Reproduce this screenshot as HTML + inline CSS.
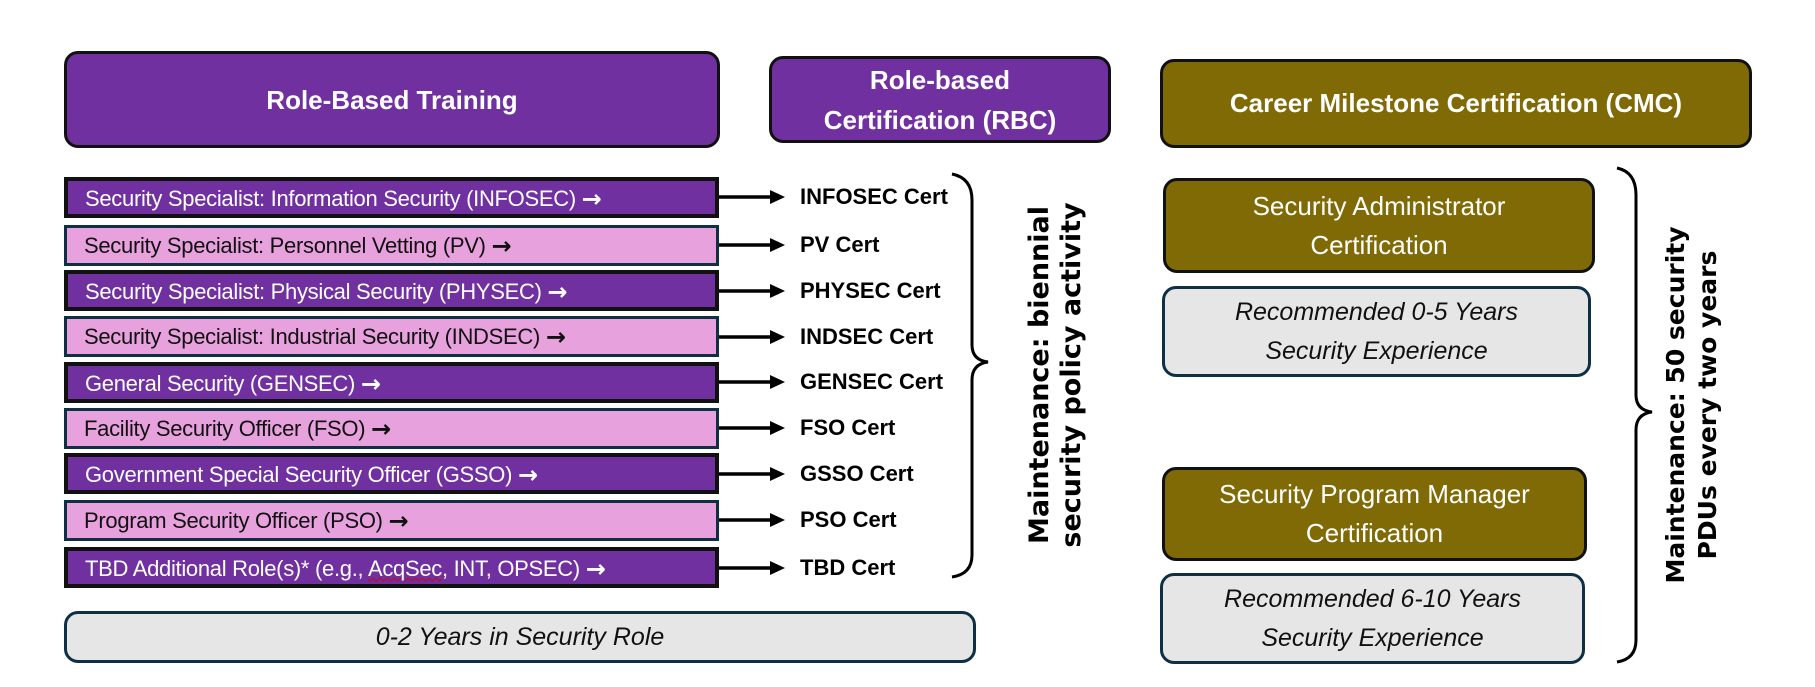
<!DOCTYPE html>
<html><head><meta charset="utf-8"><style>
body{margin:0;width:1815px;height:687px;background:#fff;position:relative;overflow:hidden;font-family:"Liberation Sans",sans-serif}
.b{position:absolute;box-sizing:border-box;display:flex;align-items:center;justify-content:center;text-align:center}
.hp{background:#7030A0;border:3px solid #111;border-radius:14px;color:#fff;font-weight:bold;font-size:26px;line-height:40px}
.ho{background:#7F6A05;border:3px solid #111;border-radius:14px;color:#fff}
.g{background:#E6E6E6;border:3px solid #0E2F44;border-radius:14px;color:#111;font-style:italic;font-size:25px;line-height:39px}
.r{position:absolute;left:64px;width:655px;height:41px;box-sizing:border-box;font-size:22px;line-height:35px;padding-left:17px;white-space:nowrap;letter-spacing:-0.3px}
.r i{font-style:normal;font-family:"DejaVu Sans",sans-serif;font-size:24px;font-weight:bold;vertical-align:-1px}
.d{background:#7030A0;border:4px solid #111;color:#fff}
.p{background:#E7A2DE;border:3px solid #0E2F44;color:#111}
.c{position:absolute;left:800px;font-weight:bold;font-size:22px;line-height:26px;white-space:nowrap}
.v{position:absolute;font-family:"DejaVu Sans",sans-serif;font-weight:bold;line-height:31px;text-align:center;white-space:nowrap;transform:rotate(-90deg);transform-origin:center}
</style></head><body>
<div class="b hp" style="left:64px;top:51px;width:656px;height:97px">Role-Based Training</div>
<div class="b hp" style="left:769px;top:56px;width:342px;height:87px">Role-based<br>Certification (RBC)</div>
<div class="b ho" style="left:1160px;top:59px;width:592px;height:89px;font-weight:bold;font-size:26px">Career Milestone Certification (CMC)</div>

<div class="r d" style="top:177px">Security Specialist: Information Security (INFOSEC) <i>→</i></div>
<div class="r p" style="top:225px">Security Specialist: Personnel Vetting (PV) <i>→</i></div>
<div class="r d" style="top:270px">Security Specialist: Physical Security (PHYSEC) <i>→</i></div>
<div class="r p" style="top:316px">Security Specialist: Industrial Security (INDSEC) <i>→</i></div>
<div class="r d" style="top:362px">General Security (GENSEC) <i>→</i></div>
<div class="r p" style="top:408px">Facility Security Officer (FSO) <i>→</i></div>
<div class="r d" style="top:453px">Government Special Security Officer (GSSO) <i>→</i></div>
<div class="r p" style="top:500px">Program Security Officer (PSO) <i>→</i></div>
<div class="r d" style="top:547px">TBD Additional Role(s)* (e.g., <span style="text-decoration:underline wavy #d00;text-decoration-thickness:1px">AcqSec</span>, INT, OPSEC) <i>→</i></div>

<svg style="position:absolute;left:0;top:0" width="1815" height="687">
<g stroke="#000" stroke-width="3.5" fill="#000">
<line x1="719" y1="197" x2="772" y2="197"/><path d="M770,190 L785,197 L770,204z" stroke="none"/>
<line x1="719" y1="245" x2="772" y2="245"/><path d="M770,238 L785,245 L770,252z" stroke="none"/>
<line x1="719" y1="291" x2="772" y2="291"/><path d="M770,284 L785,291 L770,298z" stroke="none"/>
<line x1="719" y1="337" x2="772" y2="337"/><path d="M770,330 L785,337 L770,344z" stroke="none"/>
<line x1="719" y1="382" x2="772" y2="382"/><path d="M770,375 L785,382 L770,389z" stroke="none"/>
<line x1="719" y1="428" x2="772" y2="428"/><path d="M770,421 L785,428 L770,435z" stroke="none"/>
<line x1="719" y1="474" x2="772" y2="474"/><path d="M770,467 L785,474 L770,481z" stroke="none"/>
<line x1="719" y1="520" x2="772" y2="520"/><path d="M770,513 L785,520 L770,527z" stroke="none"/>
<line x1="719" y1="568" x2="772" y2="568"/><path d="M770,561 L785,568 L770,575z" stroke="none"/>
<path d="M952,174 Q972,178 972,200 L972,345 Q972,360 988,362 Q972,364 972,380 L972,555 Q972,574 952,577" fill="none" stroke-width="3"/>
<path d="M1617,168 Q1636,172 1636,195 L1636,395 Q1636,410 1652,412 Q1636,414 1636,430 L1636,640 Q1636,659 1617,662" fill="none" stroke-width="3"/>
</g>
</svg>

<div class="c" style="top:184px">INFOSEC Cert</div>
<div class="c" style="top:232px">PV Cert</div>
<div class="c" style="top:278px">PHYSEC Cert</div>
<div class="c" style="top:324px">INDSEC Cert</div>
<div class="c" style="top:369px">GENSEC Cert</div>
<div class="c" style="top:415px">FSO Cert</div>
<div class="c" style="top:461px">GSSO Cert</div>
<div class="c" style="top:507px">PSO Cert</div>
<div class="c" style="top:555px">TBD Cert</div>

<div class="v" style="left:855px;top:344px;width:400px;height:62px;font-size:27px;line-height:32px">Maintenance: biennial<br>security policy activity</div>

<div class="b g" style="left:64px;top:611px;width:912px;height:52px">0-2 Years in Security Role</div>

<div class="b ho" style="left:1163px;top:178px;width:432px;height:95px;font-size:26px;line-height:39px">Security Administrator<br>Certification</div>
<div class="b g" style="left:1162px;top:286px;width:429px;height:91px">Recommended 0-5 Years<br>Security Experience</div>
<div class="b ho" style="left:1162px;top:467px;width:425px;height:94px;font-size:26px;line-height:39px">Security Program Manager<br>Certification</div>
<div class="b g" style="left:1160px;top:573px;width:425px;height:91px">Recommended 6-10 Years<br>Security Experience</div>

<div class="v" style="left:1491px;top:374px;width:400px;height:62px;font-size:25px;line-height:32px">Maintenance: 50 security<br>PDUs every two years</div>
</body></html>
